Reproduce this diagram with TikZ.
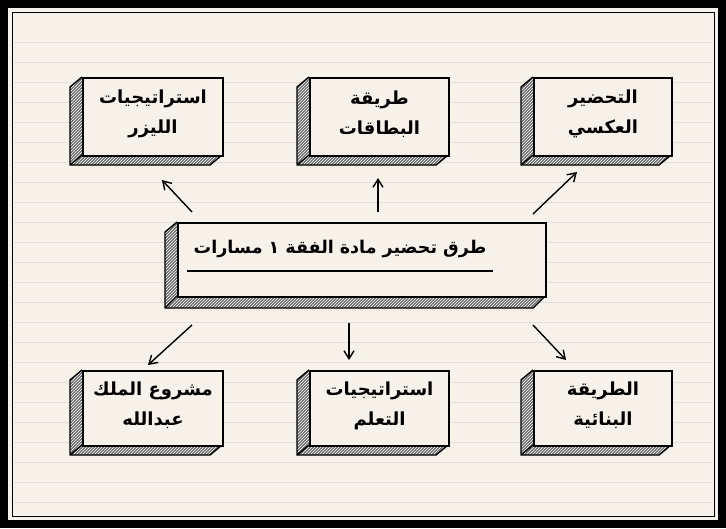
\documentclass[tikz,border=0pt]{standalone}
\usepackage{fontspec}
\usetikzlibrary{patterns,arrows.meta,calc}
\TeXXeTstate=1
\newfontfamily\arabicfont[Script=Arabic]{DejaVu Sans}
\definecolor{paper}{HTML}{F6F2EA}
\definecolor{rule}{HTML}{E6DEDA}
\tikzset{arr/.style={-{Straight Barb[length=8pt,width=10pt]},line width=1.4pt},
 face/.style={draw=black,line width=2pt,fill=paper},
 lbl/.style={font=\arabicfont\bfseries\fontsize{18}{30}\selectfont,align=center}}
\newcommand{\mybox}[6]{%
 \fill[gray!85!black] (#2,#3)--(#2-12,#3+10)--(#2-12,#5+10)--(#4-12,#5+10)--(#4,#5)--cycle;
 \fill[pattern=north east lines,pattern color=white] (#2,#3)--(#2-12,#3+10)--(#2-12,#5+10)--(#4-12,#5+10)--(#4,#5)--cycle;
 \draw[line width=1.4pt] (#2,#3)--(#2-12,#3+10)--(#2-12,#5+10)--(#4-12,#5+10)--(#4,#5) (#2,#5)--(#2-12,#5+10);
 \node[face,minimum width=#4-#2,minimum height=#5-#3,anchor=north west,inner sep=0] (#1) at (#2,#3) {};
 \node[lbl] (#1t) at ($(#1)+(0,-3)$) {#6};}
\begin{document}
\begin{tikzpicture}[x=1pt,y=-1pt]
\useasboundingbox (0,0) rectangle (726,528);
\fill[black] (0,0) rectangle (726,528);
\fill[paper] (8,8) rectangle (718,520);
\draw[line width=0.8pt] (12,12) rectangle (714,516);
\foreach \y in {42,62,...,502} \draw[rule,line width=0.6pt] (14,\y)--(712,\y);
\mybox{b1}{82}{77}{222}{155}{\beginR استراتيجيات\endR\\\beginR الليزر\endR}
\mybox{b2}{309}{77}{448}{155}{\beginR طريقة\endR\\\beginR البطاقات\endR}
\mybox{b3}{533}{77}{671}{155}{\beginR التحضير\endR\\\beginR العكسي\endR}
\mybox{b4}{82}{370}{222}{445}{\beginR مشروع الملك\endR\\\beginR عبدالله\endR}
\mybox{b5}{309}{370}{448}{445}{\beginR استراتيجيات\endR\\\beginR التعلم\endR}
\mybox{b6}{533}{370}{671}{445}{\beginR الطريقة\endR\\\beginR البنائية\endR}
\fill[gray!85!black] (177,222)--(165,232)--(165,308)--(533,308)--(545,296)--(177,296)--cycle;
\fill[pattern=north east lines,pattern color=white] (177,222)--(165,232)--(165,308)--(533,308)--(545,296)--(177,296)--cycle;
\draw[line width=1.4pt] (177,222)--(165,232)--(165,308)--(533,308)--(545,296) (177,296)--(165,308);
\node[face,minimum width=368,minimum height=74,anchor=north west,inner sep=0] (c) at (177,222) {};
\node[font=\arabicfont\bfseries\fontsize{17.5}{22}\selectfont] (ct) at (340,249) {\beginR طرق تحضير مادة الفقة \beginL ١\endL{} مسارات\endR};
\draw[line width=1.5pt] (187,271)--(493,271);
\coordinate (a1) at (192,212); \coordinate (e1) at (162,180);
\coordinate (a2) at (378,212); \coordinate (e2) at (378,178);
\coordinate (a3) at (533,214); \coordinate (e3) at (577,172);
\coordinate (a4) at (192,325); \coordinate (e4) at (148,365);
\coordinate (a5) at (349,323); \coordinate (e5) at (349,360);
\coordinate (a6) at (533,325); \coordinate (e6) at (566,360);
\foreach \i in {1,...,6} \draw[arr] (a\i)--(e\i);
\end{tikzpicture}
\end{document}
